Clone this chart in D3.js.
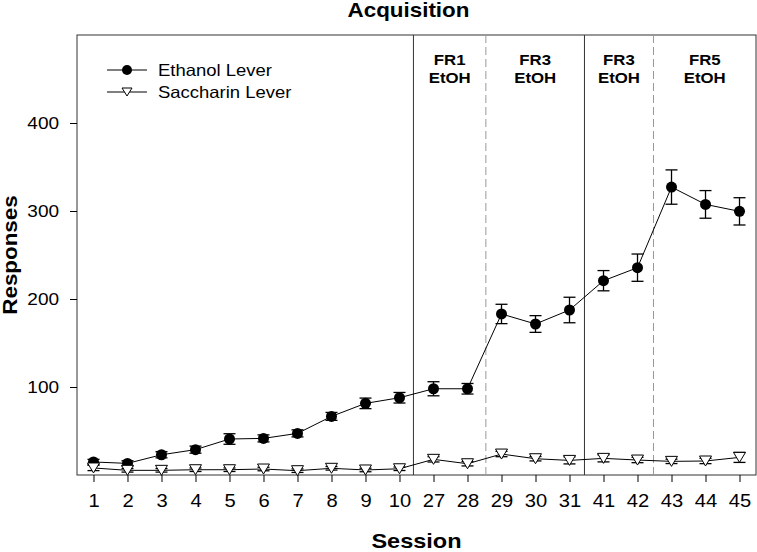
<!DOCTYPE html>
<html>
<head>
<meta charset="utf-8">
<script src="https://cdn.jsdelivr.net/npm/d3@7"></script>
<style>
    body { margin: 0; background: #fff; }
    svg { display: block; font-family: Arial, "Liberation Sans", sans-serif; }
</style>
</head>
<body>
<svg width="757" height="552"></svg>
<script>
// data
const sessions = ['1', '2', '3', '4', '5', '6', '7', '8', '9', '10', '27', '28', '29', '30', '31', '41', '42', '43', '44', '45'];
const ethanol = [14.8, 13.2, 23, 28.8, 40.9, 41.6, 47.3, 66.6, 81.4, 87.8, 98, 98, 183, 171.6, 187.5, 220.8, 235.6, 327.2, 307.5, 299.6];
const ethanolErr = [3, 3, 3.5, 4, 6, 4, 4, 4.5, 6, 6, 8, 6, 11, 9.5, 14.5, 11.5, 15.5, 19.5, 15.7, 15.5];
const saccharin = [8, 5.3, 5.3, 6, 6, 6.8, 4.9, 7.6, 5.7, 7.1, 17.8, 12.8, 23.8, 18.5, 16.6, 18.9, 17, 15.5, 15.9, 20];
const saccharinErr = [3, 2, 2, 2, 2, 2, 2, 2, 2, 2, 3, 2.5, 3, 2.5, 4, 4, 3, 2.5, 3, 5.7];
const yTicks = [100, 200, 300, 400];
// phase boundaries (in session-index units) and their labels
const boundaries = [9.41, 11.54, 14.44, 16.47];
const boundaryDashed = [false, true, false, true];
const phaseLabels = [['FR1', 'EtOH'], ['FR3', 'EtOH'], ['FR3', 'EtOH'], ['FR5', 'EtOH']];
const legendNames = ['Ethanol Lever', 'Saccharin Lever'];

const SX = 1.12; // text in the figure is a bit wide
const LEFT = 77, RIGHT = 756, TOP = 35, BOTTOM = 475;

const svg = d3.select('svg');

const x = d3.scaleLinear().domain([-0.485, sessions.length - 1 + 0.485]).range([LEFT, RIGHT]);
const y = d3.scaleLinear().domain([0, 500]).range([BOTTOM, TOP]);

function addText(px, py, str, size, bold, anchor) {
    return svg.append('text')
        .attr('transform', `translate(${px},${py}) scale(${SX},1)`)
        .attr('font-size', size)
        .attr('font-weight', bold ? 'bold' : 'normal')
        .attr('text-anchor', anchor || 'middle')
        .attr('fill', '#000')
        .text(str);
}

// Рамка
svg.append('rect')
    .attr('x', LEFT).attr('y', TOP)
    .attr('width', RIGHT - LEFT).attr('height', BOTTOM - TOP)
    .attr('fill', 'none').attr('stroke', '#333').attr('stroke-width', 1);

// Phase lines
boundaries.forEach(function (b, i) {
    svg.append('line')
        .attr('x1', x(b)).attr('x2', x(b))
        .attr('y1', TOP).attr('y2', BOTTOM)
        .attr('stroke', boundaryDashed[i] ? '#999' : '#333')
        .attr('stroke-width', 1)
        .attr('stroke-dasharray', boundaryDashed[i] ? '8,4' : null);
});

const edges = boundaries.concat([sessions.length - 1 + 0.485]);
phaseLabels.forEach(function (lab, i) {
    const cx = x((edges[i] + edges[i + 1]) / 2);
    addText(cx, 65, lab[0], 15, true);
    addText(cx, 83, lab[1], 15, true);
});

// Axes
const yAxis = svg.append('g')
    .attr('transform', `translate(${LEFT},0)`)
    .call(d3.axisLeft(y).tickValues(yTicks).tickSize(7).tickPadding(9));
yAxis.select('.domain').remove();

const xAxis = svg.append('g')
    .attr('transform', `translate(0,${BOTTOM})`)
    .call(d3.axisBottom(x).tickValues(d3.range(sessions.length))
        .tickFormat(i => sessions[i]).tickSize(7).tickPadding(12));
xAxis.select('.domain').remove();

[yAxis, xAxis].forEach(function (ax) {
    ax.selectAll('line').attr('stroke', '#000');
    ax.selectAll('text')
        .attr('font-family', 'Arial, "Liberation Sans", sans-serif')
        .attr('fill', '#000')
        .attr('transform', `scale(${SX},1)`);
});
yAxis.selectAll('text').attr('font-size', 17);
xAxis.selectAll('text').attr('font-size', 18);

// Titles
addText((LEFT + RIGHT) / 2 - 8, 17, 'Acquisition', 20, true);
addText((LEFT + RIGHT) / 2, 548, 'Session', 21, true);
svg.append('text')
    .attr('transform', `translate(17,${(TOP + BOTTOM) / 2}) rotate(-90) scale(${SX},1)`)
    .attr('font-size', 20)
    .attr('font-weight', 'bold')
    .attr('text-anchor', 'middle')
    .text('Responses');

// Series
const line = d3.line().x((d, i) => x(i)).y(d => y(d));
const triangle = 'M-6,-5L6,-5L0,5Z';
const CAP = 6;

function drawSeries(values, errs, marker) {
    svg.append('path')
        .datum(values)
        .attr('d', line)
        .attr('fill', 'none')
        .attr('stroke', '#000')
        .attr('stroke-width', 1);

    const g = svg.append('g');
    values.forEach(function (v, i) {
        const cx = x(i), lo = y(v - errs[i]), hi = y(v + errs[i]);
        g.append('line').attr('x1', cx).attr('x2', cx).attr('y1', lo).attr('y2', hi)
            .attr('stroke', '#000').attr('stroke-width', 1.3);
        [lo, hi].forEach(function (yy) {
            g.append('line').attr('x1', cx - CAP).attr('x2', cx + CAP).attr('y1', yy).attr('y2', yy)
                .attr('stroke', '#000').attr('stroke-width', 1.3);
        });
    });

    values.forEach(function (v, i) {
        if (marker === 'circle') {
            g.append('circle').attr('cx', x(i)).attr('cy', y(v)).attr('r', 5.5).attr('fill', '#000');
        } else {
            g.append('path').attr('d', triangle)
                .attr('transform', `translate(${x(i)},${y(v)})`)
                .attr('fill', '#fff').attr('stroke', '#000').attr('stroke-width', 1);
        }
    });
}

drawSeries(ethanol, ethanolErr, 'circle');
drawSeries(saccharin, saccharinErr, 'triangle');

// Legend
const legendY = [70, 92];
legendY.forEach(function (ly, i) {
    svg.append('line').attr('x1', 107).attr('x2', 147).attr('y1', ly).attr('y2', ly)
        .attr('stroke', '#000').attr('stroke-width', 1);
    if (i === 0) {
        svg.append('circle').attr('cx', 127).attr('cy', ly).attr('r', 5).attr('fill', '#000');
    } else {
        svg.append('path').attr('d', 'M-5,-4L5,-4L0,4Z')
            .attr('transform', `translate(127,${ly})`)
            .attr('fill', '#fff').attr('stroke', '#000');
    }
    addText(158, ly + 6, legendNames[i], 16.5, false, 'start');
});
</script>
</body>
</html>
